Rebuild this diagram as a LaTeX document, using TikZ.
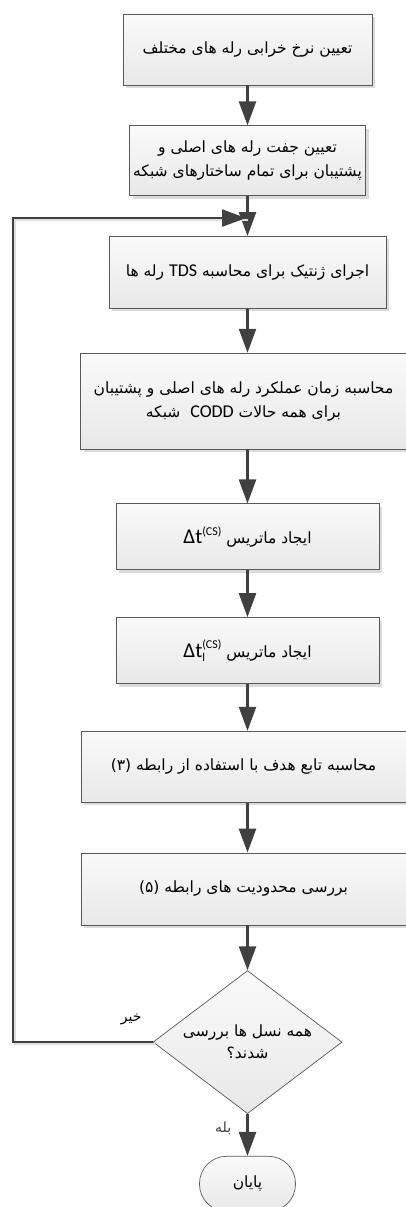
\documentclass[tikz,border=0pt]{standalone}
\usepackage{fontspec}
\usepackage{tikz}
\usetikzlibrary{shapes.geometric, arrows.meta, positioning, calc, shadows}
\TeXXeTstate=1
\newfontfamily\fafont[Script=Arabic]{DejaVu Sans}
\newfontfamily\latfont{Carlito}
\newcommand{\ltr}[1]{\beginL{\latfont #1}\endL{}}
\newcommand{\rtl}[1]{\beginR #1\endR}
\newcommand{\latsize}{\fontsize{18}{20}\selectfont}
\newcommand{\deltasize}{\fontsize{21}{22}\selectfont}
\newcommand{\smallidx}{\fontsize{12}{12}\selectfont}

\begin{document}
\begin{tikzpicture}[
        font=\fafont\fontsize{15.5}{24}\selectfont,
        every node/.style={align=center},
        stepbox/.style={
            rectangle,
            draw=black!65, line width=0.7pt,
            top color=black!2, bottom color=black!9,
            drop shadow={shadow xshift=3pt, shadow yshift=-3pt, fill=black!14, opacity=1},
            inner sep=2pt
        },
        decide/.style={
            diamond, aspect=1.32,
            draw=black!65, line width=0.7pt,
            top color=black!2, bottom color=black!9,
            minimum width=189pt, minimum height=143pt, inner sep=0pt,
            font=\fafont\fontsize{15.5}{22}\selectfont
        },
        stop/.style={
            rectangle, rounded corners=27pt,
            draw=black!65, line width=0.7pt,
            top color=black!2, bottom color=black!9,
            minimum width=96pt, minimum height=55pt
        },
        lbl/.style={font=\fafont\fontsize{14}{16}\selectfont, inner sep=1pt},
        arr/.style={-{Triangle[length=24pt,width=17pt]}, line width=2.5pt, black!75},
        back/.style={-{Triangle[length=24pt,width=17pt]}, line width=2.5pt, black!75,
            preaction={draw, black!12, line width=2.5pt, -, transform canvas={xshift=2pt, yshift=-2pt}}}
    ]
    \useasboundingbox (0,0) rectangle (406pt,-1207pt);

    \node[stepbox, minimum width=249pt, minimum height=71pt] (b1) at (247.5pt,-49.5pt)
        {\rtl{تعیین نرخ خرابی رله های مختلف}};
    \node[stepbox, minimum width=236pt, minimum height=70pt, below=40pt of b1] (b2)
        {\rtl{تعیین جفت رله های اصلی و}\\\rtl{پشتیبان برای تمام ساختارهای شبکه}};
    \node[stepbox, minimum width=277pt, minimum height=72pt, below=40pt of b2] (b3)
        {\rtl{اجرای ژنتیک برای محاسبه \ltr{\latsize TDS} رله ها}};
    \node[stepbox, minimum width=326pt, minimum height=96pt, below=44pt of b3, xshift=-4pt] (b4)
        {\rtl{محاسبه زمان عملکرد رله های اصلی و پشتیبان}\\\rtl{برای همه حالات \ltr{\latsize CODD}\ \ شبکه}};
    \node[stepbox, minimum width=263pt, minimum height=66pt, below=54pt of b4, xshift=4pt] (b5)
        {\rtl{ایجاد ماتریس \ltr{\deltasize Δt\raisebox{8pt}{\smallidx (CS)}}}};
    \node[stepbox, minimum width=263pt, minimum height=66pt, below=47pt of b5] (b6)
        {\rtl{ایجاد ماتریس \ltr{\deltasize Δt\rlap{\raisebox{-4pt}{\smallidx l}}\raisebox{9pt}{\smallidx (CS)}}}};
    \node[stepbox, minimum width=325pt, minimum height=71pt, below=47pt of b6, xshift=-4pt] (b7)
        {\rtl{محاسبه تابع هدف با استفاده از رابطه (۳)}};
    \node[stepbox, minimum width=325pt, minimum height=72pt, below=50pt of b7] (b8)
        {\rtl{بررسی محدودیت های رابطه (۵)}};
    \node[decide, below=45pt of b8, xshift=4pt] (dia)
        {\rtl{همه نسل ها بررسی}\\\rtl{شدند؟}};
    \node[stop, below=42pt of dia] (end) {\rtl{پایان}};

    \coordinate (join) at ($(b2.south)!0.55!(b3.north)$);
    \coordinate (lft) at (13pt,0);

    \draw[arr] (b1) -- (b2);
    \draw[arr] (b2) -- (b3);
    \draw[arr] (b3.south) -- (b3.south |- b4.north);
    \draw[arr] (b3.south |- b4.south) -- (b5.north);
    \draw[arr] (b5) -- (b6);
    \draw[arr] (b6.south) -- (b6.south |- b7.north);
    \draw[arr] (b6.south |- b7.south) -- (b6.south |- b8.north);
    \draw[arr] (b6.south |- b8.south) -- (dia.north);
    \draw[arr] (dia.south) -- node[lbl, left=14pt, pos=0.35] (yes) {\rtl{بله}} (end.north);
    \draw[back, shorten >=1.5pt] (dia.west) -- (dia.west -| lft) |- (join);

    \node[lbl, above left=16pt and 10pt of dia.west] (no) {\rtl{خیر}};
\end{tikzpicture}
\end{document}
